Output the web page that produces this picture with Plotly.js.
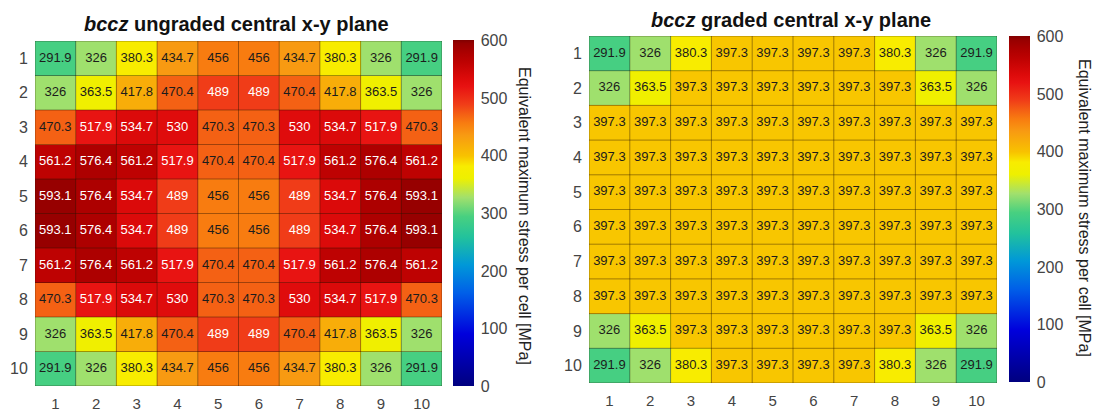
<!DOCTYPE html>
<html>
<head>
<meta charset="utf-8">
<script src="https://cdn.plot.ly/plotly-3.0.1.min.js"></script>
<style>html,body{margin:0;padding:0;background:#fff;}#chart{width:1094px;height:414px;}</style>
</head>
<body>
<div id="chart"></div>
<script>
// ---- data ----
var columns = [1, 2, 3, 4, 5, 6, 7, 8, 9, 10];
var rows = [1, 2, 3, 4, 5, 6, 7, 8, 9, 10];
var tickLabels = ['1', '2', '3', '4', '5', '6', '7', '8', '9', '10'];
var cbTicks = [0, 100, 200, 300, 400, 500, 600];

var ungraded = [
  [291.9, 326, 380.3, 434.7, 456, 456, 434.7, 380.3, 326, 291.9],
  [326, 363.5, 417.8, 470.4, 489, 489, 470.4, 417.8, 363.5, 326],
  [470.3, 517.9, 534.7, 530, 470.3, 470.3, 530, 534.7, 517.9, 470.3],
  [561.2, 576.4, 561.2, 517.9, 470.4, 470.4, 517.9, 561.2, 576.4, 561.2],
  [593.1, 576.4, 534.7, 489, 456, 456, 489, 534.7, 576.4, 593.1],
  [593.1, 576.4, 534.7, 489, 456, 456, 489, 534.7, 576.4, 593.1],
  [561.2, 576.4, 561.2, 517.9, 470.4, 470.4, 517.9, 561.2, 576.4, 561.2],
  [470.3, 517.9, 534.7, 530, 470.3, 470.3, 530, 534.7, 517.9, 470.3],
  [326, 363.5, 417.8, 470.4, 489, 489, 470.4, 417.8, 363.5, 326],
  [291.9, 326, 380.3, 434.7, 456, 456, 434.7, 380.3, 326, 291.9]
];
var graded = [
  [291.9, 326, 380.3, 397.3, 397.3, 397.3, 397.3, 380.3, 326, 291.9],
  [326, 363.5, 397.3, 397.3, 397.3, 397.3, 397.3, 397.3, 363.5, 326],
  [397.3, 397.3, 397.3, 397.3, 397.3, 397.3, 397.3, 397.3, 397.3, 397.3],
  [397.3, 397.3, 397.3, 397.3, 397.3, 397.3, 397.3, 397.3, 397.3, 397.3],
  [397.3, 397.3, 397.3, 397.3, 397.3, 397.3, 397.3, 397.3, 397.3, 397.3],
  [397.3, 397.3, 397.3, 397.3, 397.3, 397.3, 397.3, 397.3, 397.3, 397.3],
  [397.3, 397.3, 397.3, 397.3, 397.3, 397.3, 397.3, 397.3, 397.3, 397.3],
  [397.3, 397.3, 397.3, 397.3, 397.3, 397.3, 397.3, 397.3, 397.3, 397.3],
  [326, 363.5, 397.3, 397.3, 397.3, 397.3, 397.3, 397.3, 363.5, 326],
  [291.9, 326, 380.3, 397.3, 397.3, 397.3, 397.3, 380.3, 326, 291.9]
];
var leftTitle = '<i>bccz</i> ungraded central x-y plane';
var rightTitle = '<i>bccz</i> graded central x-y plane';
var cbTitle = 'Equivalent maximum stress per cell [MPa]';

// ---- styling ----
var FONT = '"Liberation Sans", Arial, sans-serif';
var colorscale = [
  [0.0, '#00007f'], [0.15, '#0000dc'], [0.27, '#0060e8'], [0.35, '#0098d8'],
  [0.43, '#22c29c'], [0.49, '#48d080'], [0.545, '#a2e06c'], [0.6, '#eef000'],
  [0.635, '#f8ec00'], [0.665, '#f8c200'], [0.725, '#f89a12'], [0.76, '#f87c10'],
  [0.785, '#f46014'], [0.815, '#f03c18'], [0.865, '#e81212'], [0.89, '#dc0a0a'],
  [0.935, '#be0202'], [0.96, '#ae0000'], [0.99, '#960000'], [1.0, '#800000']
];

function cellText(z, xa, ya) {
  var xs = [], ys = [], ts = [], cs = [];
  for (var r = 0; r < rows.length; r++) {
    for (var c = 0; c < columns.length; c++) {
      xs.push(columns[c]); ys.push(rows[r]); ts.push(String(z[r][c]));
      cs.push(z[r][c] >= 480 ? '#ffffff' : '#1c1c1c');
    }
  }
  return {type: 'scatter', mode: 'text', x: xs, y: ys, text: ts, xaxis: xa, yaxis: ya,
    textfont: {family: FONT, size: 13, color: cs}, hoverinfo: 'skip', showlegend: false};
}
function hm(z, xa, ya, cbx, cby) {
  return {type: 'heatmap', z: z, x: columns, y: rows, xaxis: xa, yaxis: ya,
    zmin: 0, zmax: 600, colorscale: colorscale,
    colorbar: {x: cbx, xanchor: 'left', y: cby, yanchor: 'middle', lenmode: 'pixels', len: 346,
      thickness: 21, xpad: 0, ypad: 0, outlinewidth: 0, tickvals: cbTicks, ticks: 'outside',
      ticklen: 4, tickcolor: 'rgba(0,0,0,0)', tickfont: {family: FONT, size: 16, color: '#444'}}};
}
function gridShapes(xr, yr) {
  var s = [];
  var line = {color: 'rgba(40,20,0,0.42)', width: 1};
  for (var i = 0; i <= columns.length; i++) {
    s.push({type: 'line', xref: xr, yref: yr, x0: i + 0.5, x1: i + 0.5, y0: 0.5, y1: rows.length + 0.5, line: line, layer: 'above'});
  }
  for (var j = 0; j <= rows.length; j++) {
    s.push({type: 'line', xref: xr, yref: yr, y0: j + 0.5, y1: j + 0.5, x0: 0.5, x1: columns.length + 0.5, line: line, layer: 'above'});
  }
  return s;
}
var W = 1094, H = 414;
function axX(d) {
  return {domain: d, range: [0.5, 10.5], tickvals: columns, ticktext: tickLabels, showgrid: false, zeroline: false,
    showline: false, ticks: 'outside', ticklen: 4, tickcolor: 'rgba(0,0,0,0)',
    tickfont: {family: FONT, size: 15, color: '#444'}, fixedrange: true};
}
function axY(d, anchor) {
  return {domain: d, range: [10.5, 0.5], tickvals: rows, ticktext: tickLabels, showgrid: false, zeroline: false,
    showline: false, ticks: 'outside', ticklen: 3, tickcolor: 'rgba(0,0,0,0)', anchor: anchor,
    tickfont: {family: FONT, size: 16, color: '#444'}, fixedrange: true};
}

var data = [
  hm(ungraded, 'x', 'y', 453 / W, 1 - 213.5 / H),
  cellText(ungraded, 'x', 'y'),
  hm(graded, 'x2', 'y2', 1009 / W, 1 - 209.5 / H),
  cellText(graded, 'x2', 'y2')
];

var layout = {
  width: W, height: H, margin: {l: 0, r: 0, t: 0, b: 0},
  paper_bgcolor: '#ffffff', plot_bgcolor: '#ffffff', showlegend: false,
  font: {family: FONT},
  xaxis: axX([35 / W, 442 / W]),
  yaxis: axY([1 - 386 / H, 1 - 41 / H], 'x'),
  xaxis2: Object.assign(axX([589 / W, 997 / W]), {anchor: 'y2'}),
  yaxis2: axY([1 - 383 / H, 1 - 36 / H], 'x2'),
  shapes: gridShapes('x', 'y').concat(gridShapes('x2', 'y2')),
  annotations: [
    {text: '<b>' + leftTitle + '</b>', xref: 'paper', yref: 'paper', x: 236 / W, y: 1 - 24 / H,
      xanchor: 'center', yanchor: 'middle', showarrow: false, font: {family: FONT, size: 20, color: '#111'}},
    {text: '<b>' + rightTitle + '</b>', xref: 'paper', yref: 'paper', x: 791 / W, y: 1 - 20 / H,
      xanchor: 'center', yanchor: 'middle', showarrow: false, font: {family: FONT, size: 20, color: '#111'}},
    {text: cbTitle, xref: 'paper', yref: 'paper', x: 525 / W, y: 1 - 216 / H, textangle: 90,
      xanchor: 'center', yanchor: 'middle', showarrow: false, font: {family: FONT, size: 16, color: '#222'}},
    {text: cbTitle, xref: 'paper', yref: 'paper', x: 1085 / W, y: 1 - 208 / H, textangle: 90,
      xanchor: 'center', yanchor: 'middle', showarrow: false, font: {family: FONT, size: 16, color: '#222'}}
  ]
};

Plotly.newPlot('chart', data, layout, {displayModeBar: false, staticPlot: true});
</script>
</body>
</html>
